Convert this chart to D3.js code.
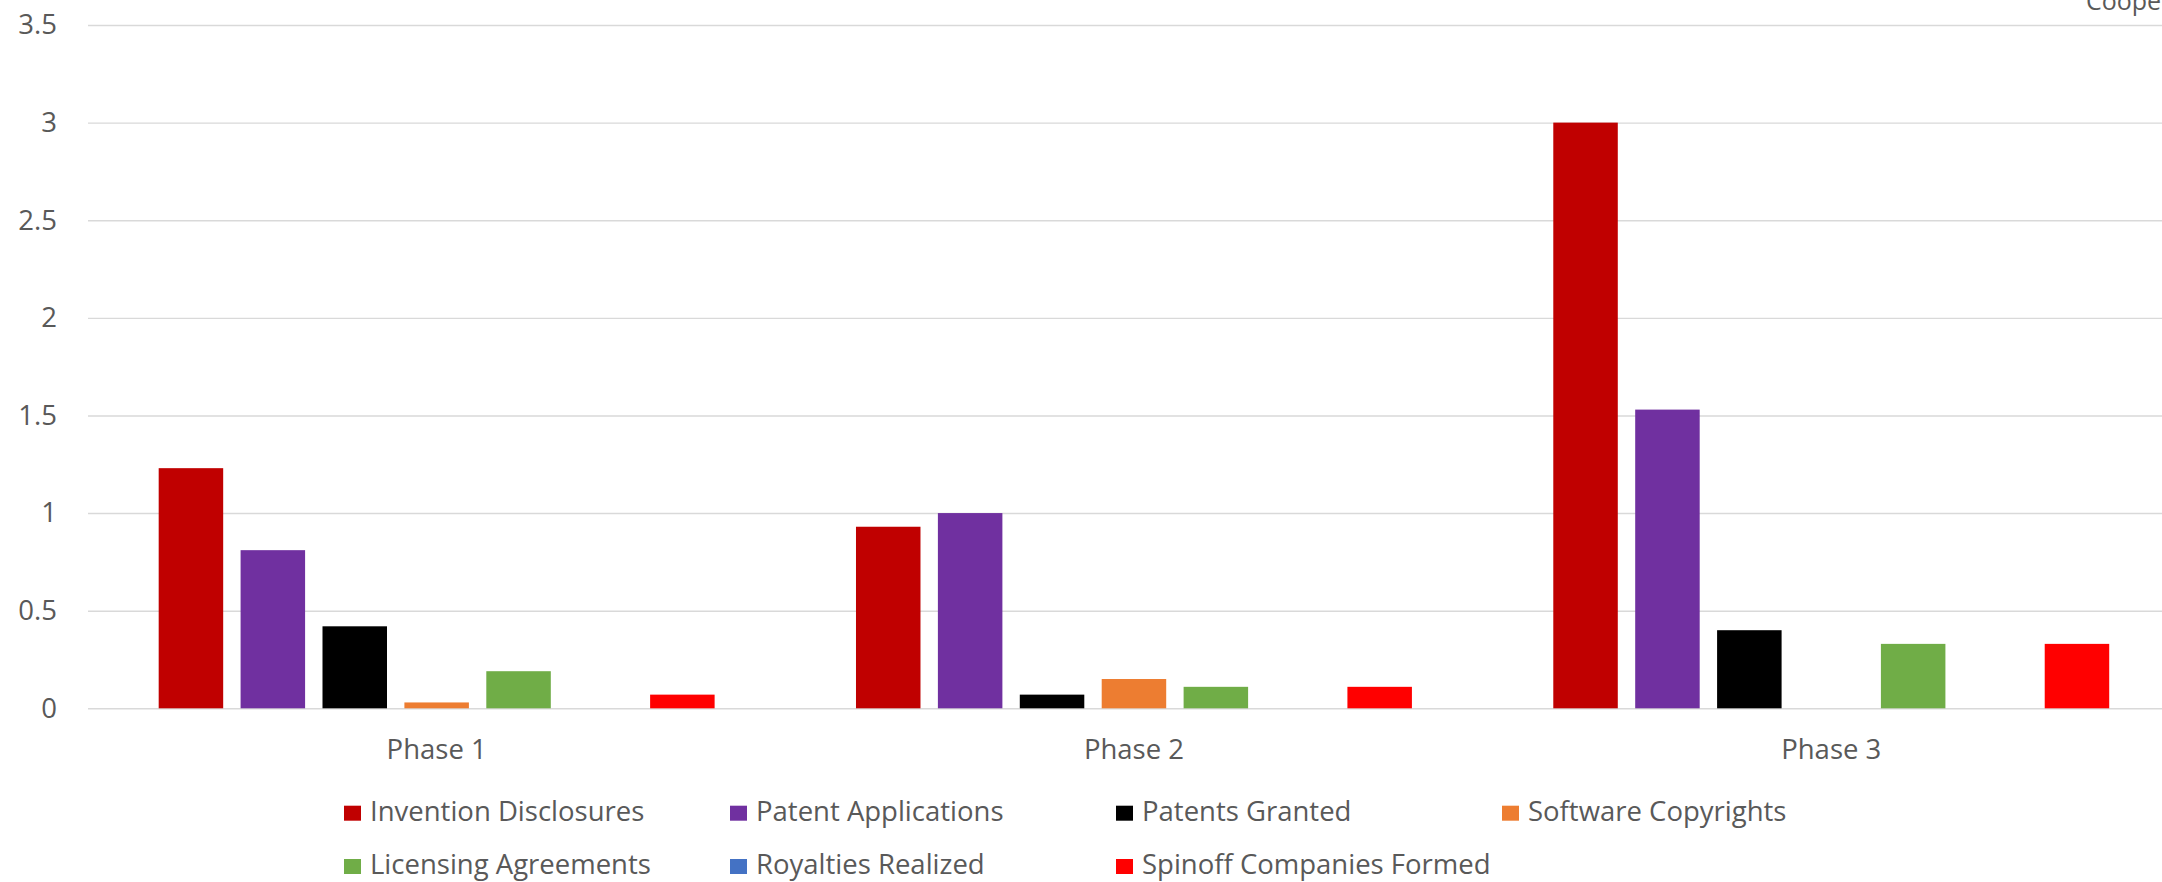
<!DOCTYPE html>
<html>
<head>
<meta charset="utf-8">
<script src="https://cdn.jsdelivr.net/npm/d3@7"></script>
<style>
  html, body { margin: 0; padding: 0; background: #ffffff; }
  svg { display: block; }
  text { font-family: "Open Sans", "Noto Sans", sans-serif; fill: #595959; }
</style>
</head>
<body>
<svg id="chart" width="2162" height="882"></svg>
<script>
// ---- data ----
const phases = ["Phase 1", "Phase 2", "Phase 3"];
const seriesNames = [
  "Invention Disclosures", "Patent Applications", "Patents Granted",
  "Software Copyrights", "Licensing Agreements", "Royalties Realized",
  "Spinoff Companies Formed"
];
const seriesColors = ["#C00000", "#7030A0", "#000000", "#ED7D31", "#70AD47", "#4472C4", "#FF0000"];
const inventionDisclosures = [1.23, 0.93, 3.00];
const patentApplications   = [0.81, 1.00, 1.53];
const patentsGranted       = [0.42, 0.07, 0.40];
const softwareCopyrights   = [0.03, 0.15, 0.00];
const licensingAgreements  = [0.19, 0.11, 0.33];
const royaltiesRealized    = [0.00, 0.00, 0.00];
const spinoffCompanies     = [0.07, 0.11, 0.33];
const yTicks = [0, 0.5, 1, 1.5, 2, 2.5, 3, 3.5];
const cornerText = "Cooper";

const seriesValues = [inventionDisclosures, patentApplications, patentsGranted,
  softwareCopyrights, licensingAgreements, royaltiesRealized, spinoffCompanies];

// ---- layout ----
const W = 2162, H = 882;
const plotLeft = 88, catWidth = 697.3;
const yZero = 708.3, yTop = 25;
const fs = 27.5;

const svg = d3.select("#chart");

const x0 = d3.scaleBand().domain(phases)
  .range([plotLeft, plotLeft + catWidth * phases.length])
  .paddingInner(0).paddingOuter(0);
const x1 = d3.scaleBand().domain(seriesNames)
  .range([0, x0.bandwidth()])
  .paddingInner(0.2125).paddingOuter(0.863);
const y = d3.scaleLinear().domain([0, 3.5]).range([yZero, yTop]);
const color = d3.scaleOrdinal().domain(seriesNames).range(seriesColors);

// gridlines + y labels
const yAxis = d3.axisLeft(y).tickValues(yTicks)
  .tickSize(-(W - plotLeft + 20)).tickPadding(31)
  .tickFormat(d => String(d));
const gy = svg.append("g").attr("transform", `translate(${plotLeft},0)`).call(yAxis);
gy.select(".domain").remove();
gy.selectAll(".tick line").attr("stroke", "#d9d9d9").attr("stroke-width", 1.4);
gy.selectAll(".tick text").attr("font-size", fs).attr("fill", "#595959")
  .style("font-family", '"Open Sans", sans-serif');

// bars
const rows = [];
phases.forEach((p, i) => seriesNames.forEach((s, j) => rows.push({phase: p, series: s, value: seriesValues[j][i]})));
svg.append("g").selectAll("rect").data(rows.filter(d => d.value > 0)).join("rect")
  .attr("x", d => x0(d.phase) + x1(d.series))
  .attr("y", d => y(d.value))
  .attr("width", x1.bandwidth())
  .attr("height", d => y(0) - y(d.value))
  .attr("fill", d => color(d.series));

// x axis labels
const xAxis = d3.axisBottom(x0).tickSize(0).tickPadding(0);
const gx = svg.append("g").attr("transform", `translate(0,${yZero})`).call(xAxis);
gx.select(".domain").remove();
gx.selectAll(".tick text").attr("font-size", fs).attr("fill", "#595959")
  .attr("dy", null).attr("y", 51)
  .style("font-family", '"Open Sans", sans-serif');

// legend
const legendX0 = 344, legendColW = 386, legendRowY = [820.7, 874];
const leg = svg.append("g");
seriesNames.forEach((s, i) => {
  const col = i < 4 ? i : i - 4;
  const row = i < 4 ? 0 : 1;
  const gx0 = legendX0 + col * legendColW;
  const by = legendRowY[row];
  leg.append("rect").attr("x", gx0).attr("y", by - 15).attr("width", 17).attr("height", 15)
    .attr("fill", color(s));
  leg.append("text").attr("x", gx0 + 26).attr("y", by).attr("font-size", fs).text(s);
});

// cut-off corner text
svg.append("text").attr("x", 2086).attr("y", 10).attr("font-size", 25).text(cornerText);
</script>
</body>
</html>
